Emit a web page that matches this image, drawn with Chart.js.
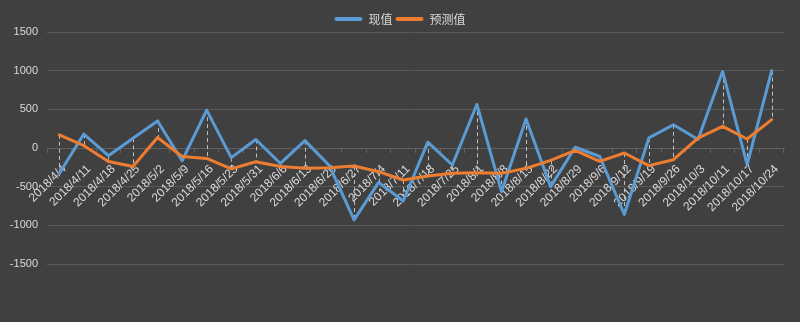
<!DOCTYPE html>
<html>
<head>
<meta charset="utf-8">
<script src="https://cdn.jsdelivr.net/npm/chart.js@4.4.1/dist/chart.umd.min.js"></script>
<style>
html,body{margin:0;padding:0;background:#404040;}
canvas{display:block;}
</style>
</head>
<body>
<canvas id="c" width="800" height="322"></canvas>
<script>
const categories = ['2018/4/4','2018/4/11','2018/4/18','2018/4/25','2018/5/2','2018/5/9','2018/5/16','2018/5/23','2018/5/31','2018/6/6','2018/6/13','2018/6/20','2018/6/27','2018/7/4','2018/7/11','2018/7/18','2018/7/25','2018/8/1','2018/8/8','2018/8/15','2018/8/22','2018/8/29','2018/9/6','2018/9/12','2018/9/19','2018/9/26','2018/10/3','2018/10/11','2018/10/17','2018/10/24'];
const actualValues = [-330,180,-100,125,350,-165,490,-125,110,-200,95,-230,-930,-445,-685,75,-220,565,-565,375,-500,10,-110,-860,130,300,110,990,-215,1000];
const forecastValues = [170,30,-175,-240,135,-110,-135,-270,-177,-240,-263,-254,-233,-306,-414,-362,-328,-319,-328,-263,-160,-30,-172,-65,-228,-151,129,280,116,366];
const seriesNames = ['现值','预测值'];
const yTicks = [-1500,-1000,-500,0,500,1000,1500];

const hiLoPlugin = {
  id: 'hiLo',
  afterLayout(chart) {
    chart.scales.y.left = 0;
  },
  beforeDatasetsDraw(chart) {
    const ctx = chart.ctx, x = chart.scales.x, y = chart.scales.y;
    ctx.save();
    ctx.strokeStyle = '#bfbfbf';
    ctx.lineWidth = 1;
    ctx.setLineDash([4,3]);
    categories.forEach((c, i) => {
      const px = Math.round(x.getPixelForValue(i)) + 0.5;
      const a = y.getPixelForValue(actualValues[i]);
      const b = y.getPixelForValue(forecastValues[i]);
      ctx.beginPath();
      ctx.moveTo(px, Math.min(a,b));
      ctx.lineTo(px, Math.max(a,b));
      ctx.stroke();
    });
    ctx.restore();
  }
};

new Chart(document.getElementById('c'), {
  type: 'line',
  data: {
    labels: categories,
    datasets: [
      {label: seriesNames[0], data: actualValues, borderColor: '#5B9BD5', backgroundColor: '#5B9BD5', borderWidth: 3, pointRadius: 0, tension: 0, borderJoinStyle: 'round', borderCapStyle: 'round', order: 1},
      {label: seriesNames[1], data: forecastValues, borderColor: '#ED7D31', backgroundColor: '#ED7D31', borderWidth: 3, pointRadius: 0, tension: 0, borderJoinStyle: 'round', borderCapStyle: 'round', order: 0}
    ]
  },
  options: {
    responsive: false,
    animation: false,
    layout: {padding: {top: 10, left: 16, right: 16, bottom: 58}},
    plugins: {
      tooltip: {enabled: false},
      legend: {
        position: 'top',
        maxHeight: 22,
        labels: {
          color: '#d9d9d9',
          font: {family: '"Noto Sans CJK SC", sans-serif', size: 12},
          boxWidth: 28,
          boxHeight: 4,
          padding: 3,
          useBorderRadius: true,
          borderRadius: 2,
          sort: (a, b) => a.datasetIndex - b.datasetIndex,
          generateLabels(chart) {
            return Chart.defaults.plugins.legend.labels.generateLabels(chart).map(l => Object.assign(l, {lineWidth: 0}));
          }
        }
      }
    },
    scales: {
      x: {
        type: 'category',
        position: {y: 0},
        offset: true,
        afterFit(s) { s.height = 0; },
        grid: {display: true, drawOnChartArea: false, drawTicks: true, tickLength: 4, color: '#5f5f5f', offset: true},
        border: {display: true, color: '#5f5f5f', width: 1},
        ticks: {autoSkip: false, minRotation: 45, maxRotation: 45, padding: 10, labelOffset: 5, color: '#d9d9d9', font: {family: '"Liberation Sans", Arial, sans-serif', size: 12}}
      },
      y: {
        min: -1500,
        max: 1500,
        afterFit(s) { s.width = 31; },
        afterBuildTicks(s) { s.ticks = yTicks.map(v => ({value: v})); },
        grid: {color: '#595959', drawTicks: false, lineWidth: 1},
        border: {display: false},
        ticks: {padding: 9, color: '#d9d9d9', font: {family: '"Liberation Sans", Arial, sans-serif', size: 11}, callback: v => String(v)}
      }
    }
  },
  plugins: [hiLoPlugin]
});
</script>
</body>
</html>
